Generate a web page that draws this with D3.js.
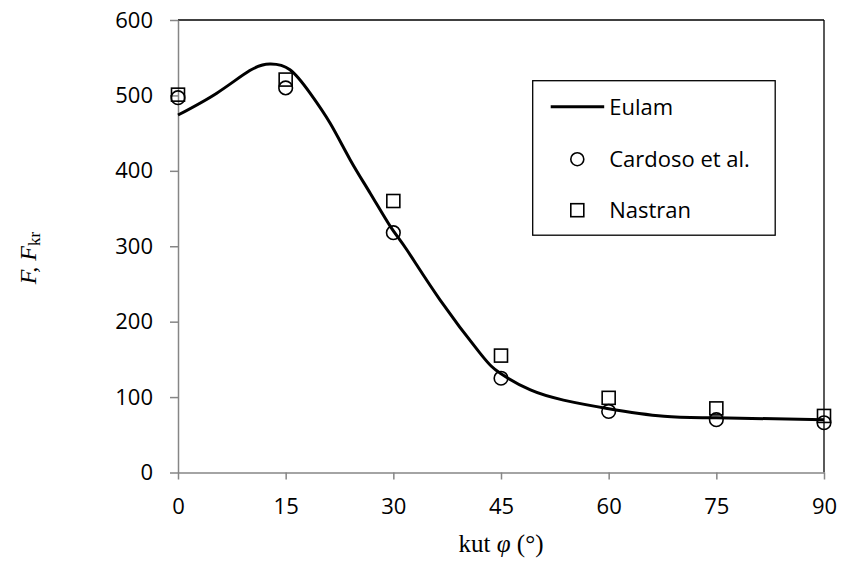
<!DOCTYPE html>
<html>
<head>
<meta charset="utf-8">
<script src="https://cdn.jsdelivr.net/npm/d3@7"></script>
<style>
  body { margin: 0; background: #fff; }
  svg { display: block; }
</style>
</head>
<body>
<div id="chart"></div>
<script>
// Eulam curve
var eulamAngle = [0, 5.4, 10, 12.8, 15.6, 18.4, 21.2, 24, 26.8, 29.6, 31.9, 36.5, 42.1, 44.9, 49.1, 53.7, 59.8, 67.7, 75, 90];
var eulamForce = [474, 503, 533, 541.6, 534, 503, 463, 414.5, 370, 326, 295, 229, 158, 131.6, 109.4, 96, 85, 74.5, 72.5, 70];

// measured points
var pointAngle = [0, 15, 30, 45, 60, 75, 90];
var cardoso = [497, 510, 318, 125, 81, 70, 66];
var nastran = [501, 521, 360, 155, 99, 85, 75];

var xTicks = [0, 15, 30, 45, 60, 75, 90];
var yTicks = [0, 100, 200, 300, 400, 500, 600];

var legendLabels = ["Eulam", "Cardoso et al.", "Nastran"];

var W = 842, H = 569;
var margin = { top: 20, right: 18, bottom: 96.5, left: 178 },
    width = W - margin.left - margin.right,
    height = H - margin.top - margin.bottom;

var svg = d3.select("#chart")
  .append("svg")
    .attr("width", W)
    .attr("height", H)
  .append("g")
    .attr("transform", "translate(" + margin.left + "," + margin.top + ")");

var x = d3.scaleLinear().domain([0, 90]).range([0, width]);
var y = d3.scaleLinear().domain([0, 600]).range([height, 0]);

var axisColor = "#868686";

// frame top and right (black)
svg.append("line")
    .attr("x1", 0).attr("x2", width)
    .attr("y1", 0).attr("y2", 0)
    .style("stroke", "#000").style("stroke-width", 1.3);
svg.append("line")
    .attr("x1", width).attr("x2", width)
    .attr("y1", 0).attr("y2", height)
    .style("stroke", "#000").style("stroke-width", 1.3);

// axes
var gx = svg.append("g")
    .attr("transform", "translate(0," + height + ")")
    .call(d3.axisBottom(x).tickValues(xTicks).tickSize(7).tickPadding(19).tickSizeOuter(0));
var gy = svg.append("g")
    .call(d3.axisLeft(y).tickValues(yTicks).tickSize(8).tickPadding(17).tickSizeOuter(0));

[gx, gy].forEach(function(g){
  g.select(".domain").style("stroke", axisColor).style("stroke-width", 1.5);
  g.selectAll(".tick line").style("stroke", axisColor).style("stroke-width", 1.5);
  g.selectAll(".tick text")
    .style("font-family", "'Open Sans', sans-serif")
    .style("font-size", "22px")
    .style("fill", "#000");
});

// Eulam line
var line = d3.line()
    .x(function(d){ return x(d[0]); })
    .y(function(d){ return y(d[1]); })
    .curve(d3.curveNatural);

svg.append("path")
    .datum(d3.zip(eulamAngle, eulamForce))
    .attr("d", line)
    .style("fill", "none")
    .style("stroke", "#000")
    .style("stroke-width", 3);

// Nastran squares
var sq = 13;
svg.selectAll(".nastran")
    .data(d3.zip(pointAngle, nastran))
  .enter().append("rect")
    .attr("class", "nastran")
    .attr("x", function(d){ return x(d[0]) - sq / 2; })
    .attr("y", function(d){ return y(d[1]) - sq / 2; })
    .attr("width", sq)
    .attr("height", sq)
    .style("fill", "none")
    .style("stroke", "#000")
    .style("stroke-width", 1.6);

// Cardoso circles
svg.selectAll(".cardoso")
    .data(d3.zip(pointAngle, cardoso))
  .enter().append("circle")
    .attr("class", "cardoso")
    .attr("cx", function(d){ return x(d[0]); })
    .attr("cy", function(d){ return y(d[1]); })
    .attr("r", 6.8)
    .style("fill", "none")
    .style("stroke", "#000")
    .style("stroke-width", 1.6);

// legend
var lg = svg.append("g").attr("transform", "translate(" + (532.7 - margin.left) + "," + (80.7 - margin.top) + ")");
lg.append("rect")
    .attr("width", 242.5)
    .attr("height", 154.5)
    .style("fill", "#fff")
    .style("stroke", "#000")
    .style("stroke-width", 1.3);

var rowY = [26, 78.5, 129.5];
lg.append("line")
    .attr("x1", 18).attr("x2", 71.5)
    .attr("y1", rowY[0]).attr("y2", rowY[0])
    .style("stroke", "#000").style("stroke-width", 3);
lg.append("circle")
    .attr("cx", 44.6).attr("cy", rowY[1]).attr("r", 6.5)
    .style("fill", "none").style("stroke", "#000").style("stroke-width", 1.6);
lg.append("rect")
    .attr("x", 44.6 - sq / 2).attr("y", rowY[2] - sq / 2)
    .attr("width", sq).attr("height", sq)
    .style("fill", "none").style("stroke", "#000").style("stroke-width", 1.6);

lg.selectAll(".ltext")
    .data(legendLabels)
  .enter().append("text")
    .attr("class", "ltext")
    .attr("x", 76.5)
    .attr("y", function(d, i){ return rowY[i]; })
    .attr("dy", "0.36em")
    .style("font-family", "'Open Sans', sans-serif")
    .style("font-size", "22px")
    .text(function(d){ return d; });

// axis titles
var xt = svg.append("text")
    .attr("x", width / 2)
    .attr("y", height + 79)
    .attr("text-anchor", "middle")
    .style("font-family", "'Liberation Serif', 'Times New Roman', serif")
    .style("font-size", "25px");
xt.append("tspan").text("kut ");
xt.append("tspan").style("font-style", "italic").text("φ");
xt.append("tspan").text(" (°)");

var yt = svg.append("text")
    .attr("transform", "translate(" + (36 - margin.left) + "," + (258 - margin.top) + ") rotate(-90)")
    .attr("text-anchor", "middle")
    .style("font-family", "'Liberation Serif', 'Times New Roman', serif")
    .style("font-size", "24px");
yt.append("tspan").style("font-style", "italic").text("F, F");
yt.append("tspan").attr("dy", "0.25em").style("font-size", "17px").text("kr");
</script>
</body>
</html>
